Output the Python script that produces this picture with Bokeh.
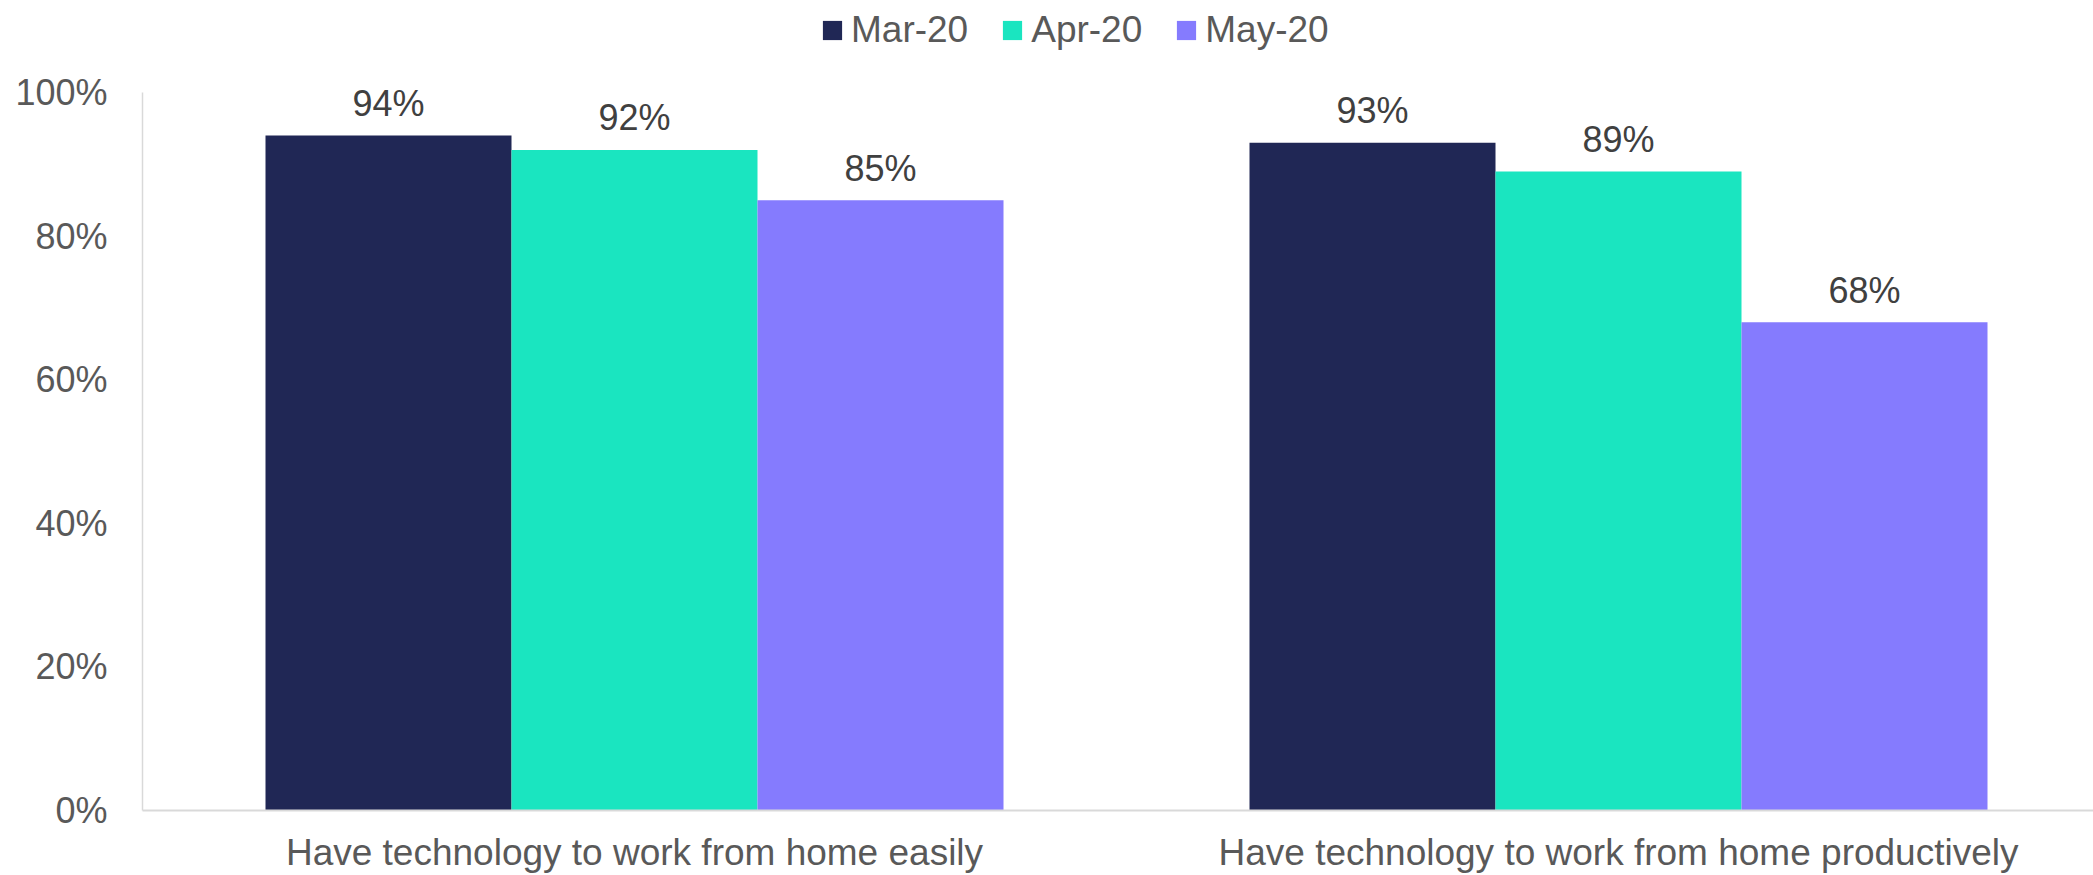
from bokeh.plotting import figure
from bokeh.models import (ColumnDataSource, Range1d, FixedTicker, NumeralTickFormatter,
                          Legend, LegendItem)
from bokeh.core.properties import value
from bokeh.embed import file_html
from bokeh.resources import INLINE

# ---- data ----
categories = ["Have technology to work from home easily",
              "Have technology to work from home productively"]
series = ["Mar-20", "Apr-20", "May-20"]
mar_20 = [0.94, 0.93]
apr_20 = [0.92, 0.89]
may_20 = [0.85, 0.68]
colors = ["#202755", "#1AE5C0", "#857BFE"]
y_ticks = [0, 0.2, 0.4, 0.6, 0.8, 1.0]

FONT = "Liberation Sans"
W, H = 2093, 875
LEFT, TOP, BOTTOM = 142, 0, 65
frame_w = W - LEFT
frame_h = H - TOP - BOTTOM
px_per_cat = 984.0
px_per_unit_y = 718.0

p = figure(width=W, height=H, output_backend="svg", toolbar_location=None,
           x_range=Range1d(0, frame_w / px_per_cat),
           y_range=Range1d(0, frame_h / px_per_unit_y),
           min_border_left=LEFT, min_border_right=0, min_border_top=TOP,
           min_border_bottom=BOTTOM)
p.outline_line_color = None
p.xgrid.grid_line_color = None
p.ygrid.grid_line_color = None
p.background_fill_color = "white"
p.border_fill_color = "white"

bar_w = 0.25
offsets = [-bar_w, 0.0, bar_w]
renderers = []
for name, vals, col, off in zip(series, [mar_20, apr_20, may_20], colors, offsets):
    xs = [i + 0.5 + off for i in range(len(categories))]
    src = ColumnDataSource(dict(x=xs, top=vals,
                                lab=[f"{round(v * 100)}%" for v in vals]))
    r = p.vbar(x="x", top="top", width=bar_w, bottom=0, source=src,
               fill_color=col, line_color=None)
    renderers.append(r)
    p.text(x="x", y="top", text="lab", source=src, text_align="center",
           text_baseline="alphabetic", y_offset=-32,
           text_font=value(FONT), text_font_size="36px", text_color="#404040")

# axes
xa = p.xaxis[0]
xa.ticker = FixedTicker(ticks=[i + 0.5 for i in range(len(categories))])
xa.major_label_overrides = {i + 0.5: c for i, c in enumerate(categories)}
xa.major_tick_out = 0
xa.major_tick_in = 0
xa.minor_tick_out = 0
xa.minor_tick_in = 0
xa.axis_line_color = "#D9D9D9"
xa.axis_line_width = 2
xa.major_label_standoff = 21
xa.major_label_text_font = FONT
xa.major_label_text_font_size = "37px"
xa.major_label_text_color = "#595959"

ya = p.yaxis[0]
ya.ticker = FixedTicker(ticks=y_ticks)
ya.bounds = (y_ticks[0], y_ticks[-1])
ya.formatter = NumeralTickFormatter(format="0%")
ya.major_tick_out = 0
ya.major_tick_in = 0
ya.minor_tick_out = 0
ya.minor_tick_in = 0
ya.axis_line_color = "#D9D9D9"
ya.axis_line_width = 1.5
ya.major_label_standoff = 35
ya.major_label_text_font = FONT
ya.major_label_text_font_size = "36px"
ya.major_label_text_color = "#595959"

legend = Legend(items=[LegendItem(label=s, renderers=[r]) for s, r in zip(series, renderers)],
                orientation="horizontal", location=(678, frame_h - 51),
                glyph_width=24, glyph_height=24, label_standoff=7, spacing=32,
                padding=0, margin=0, border_line_color=None,
                background_fill_alpha=0,
                label_text_font=FONT, label_text_font_size="37px",
                label_text_color="#595959")
p.add_layout(legend, "center")

open("out.html", "w").write(file_html(p, INLINE))
